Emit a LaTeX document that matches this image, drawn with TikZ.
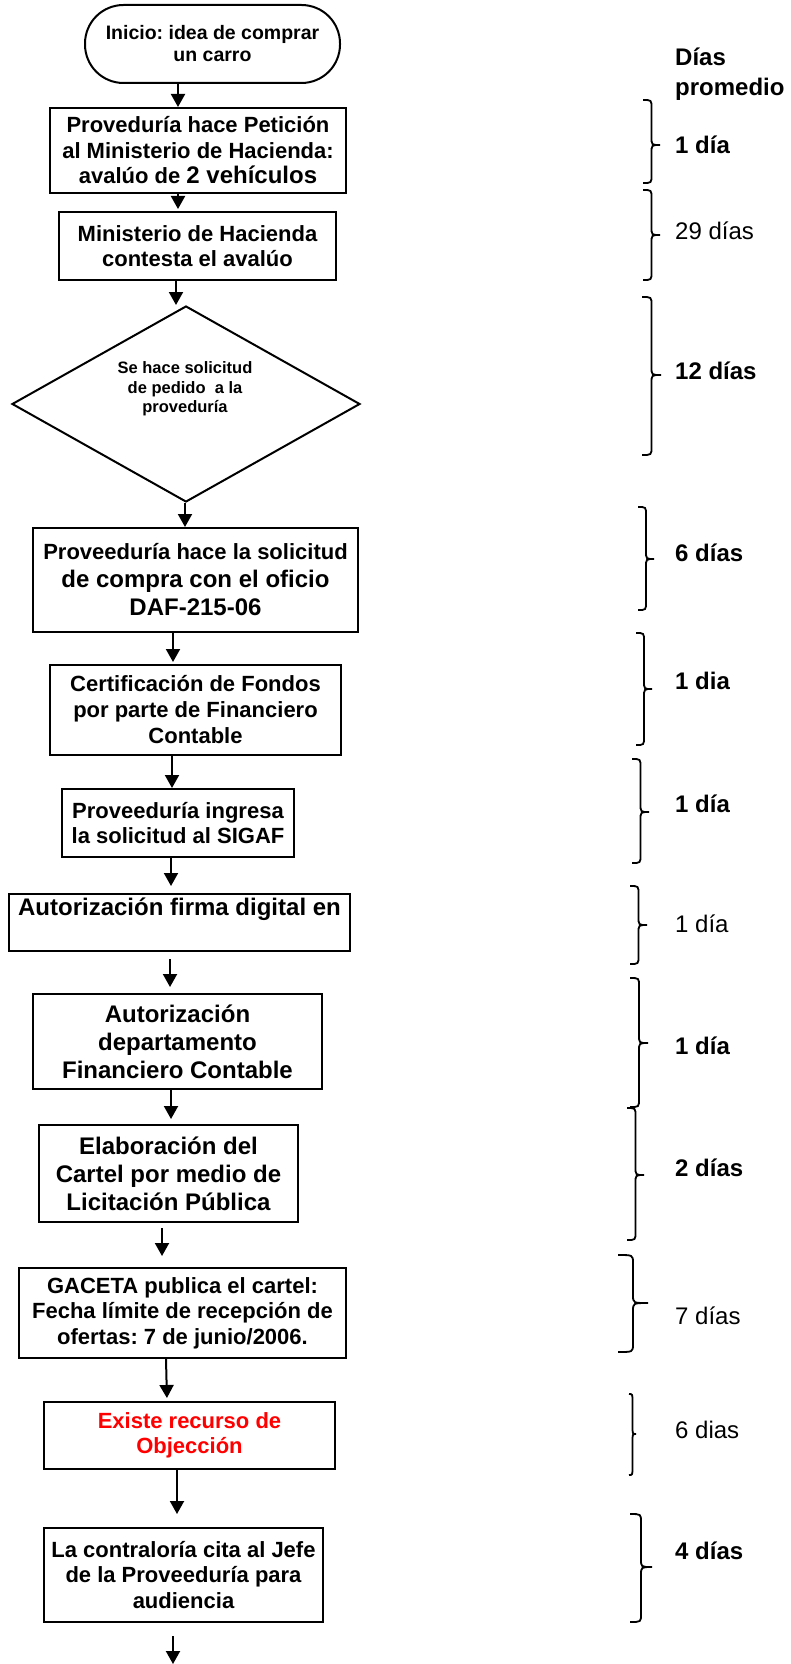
\documentclass[tikz,border=0pt]{standalone}
\usepackage{fontspec}
\setmainfont{Liberation Sans}
\usetikzlibrary{shapes.geometric,arrows.meta}
\frenchspacing
\newcommand\curlyb[5]{% x0, w, y1, ym, y2
 \draw[brc] (#1,#3) .. controls ({#1+#2*0.5},#3) .. ({#1+#2*0.5},{#3+8}) -- ({#1+#2*0.5},{#4-8}) .. controls ({#1+#2*0.5},#4) .. ({#1+#2},#4) .. controls ({#1+#2*0.5},#4) .. ({#1+#2*0.5},{#4+8}) -- ({#1+#2*0.5},{#5-8}) .. controls ({#1+#2*0.5},#5) .. (#1,#5);}
\begin{document}
\begin{tikzpicture}[x=1pt,y=-1pt,
  box/.style={draw,line width=2pt,inner sep=0pt,align=center,font=\bfseries\fontsize{22}{25.5}\selectfont},
  bigbox/.style={box,font=\bfseries\fontsize{24}{28}\selectfont},
  arr/.style={line width=2pt,-{Triangle[width=14pt,length=13pt]}},
  days/.style={anchor=west,inner sep=0pt,align=left,font=\fontsize{24}{30}\selectfont},
  bdays/.style={days,font=\bfseries\fontsize{24}{30}\selectfont},
  brc/.style={line width=1.8pt}]
\useasboundingbox (0,0) rectangle (790,1664);

% flow nodes
\node[draw,line width=2pt,rounded corners=38.5pt,inner sep=0pt,align=center,
      minimum width=255pt,minimum height=78pt,
      font=\bfseries\fontsize{19.5}{22}\selectfont] (T) at (212.5,44)
      {Inicio: idea de comprar\\un carro};
\node[box,minimum width=296pt,minimum height=85pt] (B1) at (198,150.5)
  {Proveduría hace Petición\\al Ministerio de Hacienda:\\avalúo de {\fontsize{24}{25.5}\selectfont 2 vehículos}};
\node[box,minimum width=277pt,minimum height=68pt] (B2) at (197.5,246)
  {Ministerio de Hacienda\\contesta el avalúo};
\node[draw,line width=2pt,shape=diamond,inner sep=0pt,minimum width=348pt,minimum height=196pt] (D) at (186,404) {};
\node[inner sep=0pt,align=center,font=\bfseries\fontsize{16.5}{19.5}\selectfont] (Dt) at (185,389)
  {Se hace solicitud\\de pedido\ \ a la\\proveduría};
\node[box,minimum width=325pt,minimum height=104pt,font=\bfseries\fontsize{24}{28}\selectfont] (B3) at (195.5,580)
  {{\fontsize{22}{28}\selectfont Proveeduría hace la solicitud}\\de compra con el oficio\\DAF-215-06};
\node[box,minimum width=291pt,minimum height=90pt,font=\bfseries\fontsize{22}{26}\selectfont] (B4) at (195.5,710)
  {Certificación de Fondos\\por parte de Financiero\\Contable};
\node[box,minimum width=232pt,minimum height=68pt] (B5) at (178,823)
  {Proveeduría ingresa\\la solicitud al SIGAF};
\node[bigbox,minimum width=341pt,minimum height=57pt,font=\bfseries\fontsize{24}{25}\selectfont] (B6) at (179.5,922.5)
  {Autorización firma digital en\\\strut};
\node[bigbox,minimum width=289pt,minimum height=95pt] (B7) at (177.5,1041.5)
  {Autorización\\departamento\\Financiero Contable};
\node[bigbox,minimum width=259pt,minimum height=97pt] (B8) at (168.5,1173.5)
  {Elaboración del\\Cartel por medio de\\Licitación Pública};
\node[box,minimum width=327pt,minimum height=90pt] (B9) at (182.5,1313)
  {GACETA publica el cartel:\\Fecha límite de recepción de\\ofertas: 7 de junio/2006.};
\node[box,minimum width=291pt,minimum height=67pt,text=red] (B10) at (189.5,1435.5)
  {Existe recurso de\\Objección};
\node[box,minimum width=279pt,minimum height=94pt] (B11) at (183.5,1575)
  {La contraloría cita al Jefe\\de la Proveeduría para\\audiencia};

% arrow x positions
\coordinate (ax1) at (178,0);
\coordinate (ax3) at (176,0);
\coordinate (ax4) at (185,0);
\coordinate (ax5) at (173,0);
\coordinate (ax6) at (172,0);
\coordinate (ax7) at (171,0);
\coordinate (ax8) at (170,0);
\coordinate (ax10) at (162,0);
\coordinate (ax11a) at (166,0);
\coordinate (ax11b) at (167,0);
\coordinate (ax12) at (177,0);
\coordinate (ax13) at (173,0);
\coordinate (endpt) at (173,1664);

\draw[arr] (T.south -| ax1) -- (B1.north -| ax1);
\draw[arr,shorten >=2pt] (B1.south -| ax1) -- (B2.north -| ax1);
\draw[arr] (B2.south -| ax3) -- (D.north -| ax3);
\draw[arr] (D.south -| ax4) -- (B3.north -| ax4);
\draw[arr,shorten >=2pt] (B3.south -| ax5) -- (B4.north -| ax5);
\draw[arr] (B4.south -| ax6) -- (B5.north -| ax6);
\draw[arr,shorten >=7pt] (B5.south -| ax7) -- (B6.north -| ax7);
\draw[arr,shorten <=7pt,shorten >=6pt] (B6.south -| ax8) -- (B7.north -| ax8);
\draw[arr,shorten >=5pt] (B7.south -| ax7) -- (B8.north -| ax7);
\draw[arr,shorten <=5pt,shorten >=11pt] (B8.south -| ax10) -- (B9.north -| ax10);
\draw[arr,shorten >=3pt] (B9.south -| ax11a) -- (B10.north -| ax11b);
\draw[arr,shorten >=13pt] (B10.south -| ax12) -- (B11.north -| ax12);
\draw[arr,shorten <=13pt] (B11.south -| ax13) -- (endpt);

% right column
\node[bdays] (hdr) at (675,74) {Días\\promedio};
\curlyb{643}{17}{100}{145}{183}
\node[bdays] (d1) at (675,145) {1 día};
\curlyb{643}{17}{190}{235}{280}
\node[days] (d2) at (675,231) {29 días};
\curlyb{642}{19}{297}{375}{455}
\node[bdays] (d3) at (675,371) {12 días};
\curlyb{638}{16}{507}{559}{610}
\node[bdays] (d4) at (675,553) {6 días};
\curlyb{636}{16}{633}{689}{745}
\node[bdays] (d5) at (675,681) {1 dia};
\curlyb{632}{17}{759}{812}{863}
\node[bdays] (d6) at (675,804) {1 día};
\curlyb{630}{17}{886}{925}{964}
\node[days] (d7) at (675,924) {1 día};
\curlyb{630}{18}{978}{1043}{1107}
\node[bdays] (d8) at (675,1046) {1 día};
\curlyb{627}{17}{1108}{1175}{1240}
\node[bdays] (d9) at (675,1168) {2 días};
\curlyb{618}{30}{1255}{1303}{1352}
\node[days] (d10) at (675,1316) {7 días};
\curlyb{629}{7}{1394}{1434}{1475}
\node[days] (d11) at (675,1430) {6 dias};
\curlyb{630}{22}{1514}{1567}{1622}
\node[bdays] (d12) at (675,1551) {4 días};
\end{tikzpicture}
\end{document}
